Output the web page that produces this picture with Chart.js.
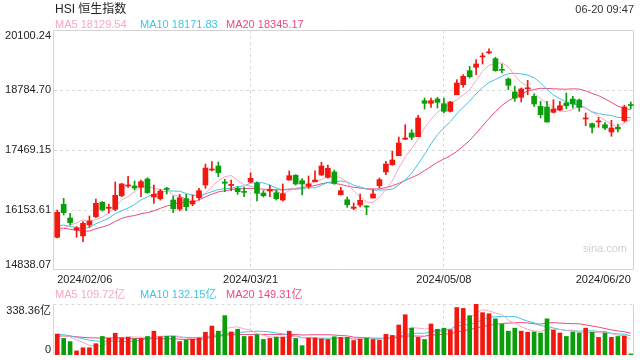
<!DOCTYPE html>
<html><head><meta charset="utf-8">
<script src="https://cdn.jsdelivr.net/npm/chart.js@4/dist/chart.umd.min.js"></script>
<style>
html,body{margin:0;padding:0;background:#fff;width:640px;height:360px;overflow:hidden;}
#wrap{position:relative;width:640px;height:360px;font-family:"Liberation Sans",Arial,"Noto Sans CJK SC",sans-serif;}
.t{position:absolute;white-space:nowrap;line-height:1;}
#c1{position:absolute;left:0;top:0;}
#c2{position:absolute;left:0;top:300px;}
</style></head>
<body><div id="wrap">
<canvas id="c1" width="640" height="290"></canvas>
<canvas id="c2" width="640" height="60"></canvas>
<div class="t" style="left:55px;top:3px;font-size:12px;color:#222">HSI 恒生指数</div>
<div class="t" style="right:6px;top:4px;font-size:11px;color:#333">06-20 09:47</div>
<div id="lg1"></div><div id="lg2"></div>
<div class="t" style="left:583px;top:243px;font-size:11px;color:#d0d0d0">sina.com</div>
</div>
<script>
const dates = ['02/06','02/07','02/08','02/09','02/14','02/15','02/16','02/19','02/20','02/21','02/22','02/23','02/26','02/27','02/28','02/29',
'03/01','03/04','03/05','03/06','03/07','03/08','03/11','03/12','03/13','03/14','03/15','03/18','03/19','03/20','03/21','03/22','03/25','03/26','03/27','03/28',
'04/02','04/03','04/05','04/08','04/09','04/10','04/11','04/12','04/15','04/16','04/17','04/18','04/19','04/22','04/23','04/24','04/25','04/26','04/29','04/30',
'05/02','05/03','05/06','05/07','05/08','05/09','05/10','05/13','05/14','05/16','05/17','05/20','05/21','05/22','05/23','05/24','05/27','05/28','05/29','05/30','05/31',
'06/03','06/04','06/05','06/06','06/07','06/11','06/12','06/13','06/14','06/17','06/18','06/19','06/20'];
const opens = [15555,16279,15978,15720,15584,15825,16007,16322,16190,16168,16467,16680,16680,16651,16833,16438,
16401,16630,16373,16175,16402,16285,16423,16702,17030,17118,16768,16690,16629,16555,16767,16738,16526,16570,16533,16373,
16811,16915,16796,16680,16774,16921,16871,16987,16489,16379,16190,16263,16234,16416,16687,16987,17147,17344,17705,17842,
17761,18550,18493,18587,18484,18317,18681,18901,19208,19282,19510,19600,19471,19230,19026,18741,18625,18810,18647,18427,18412,
18296,18346,18500,18587,18565,18150,18046,18085,18024,17864,17967,18112,18460];
const highs = [16154,16410,16081,15790,15899,16022,16395,16340,16280,16767,16740,16893,16790,16811,16862,16702,
16607,16651,16460,16498,16498,16482,16629,17162,17215,17206,16826,16811,16665,16651,16971,16774,16577,16695,16592,16724,
17010,16929,16840,16899,17010,17199,17140,17031,16651,16438,16307,16504,16248,16599,16855,17221,17440,17754,18024,17915,
18230,18609,18609,18624,18609,18537,19011,19120,19304,19449,19596,19690,19502,19355,19048,18866,18829,18997,18697,18537,18537,
18572,18537,18719,18646,18587,18280,18061,18186,18068,18120,18039,18449,18522];
const lows = [15540,16044,15825,15555,15460,15775,15985,16130,16085,16140,16445,16651,16592,16445,16520,16300,
16373,16504,16094,16139,16139,16248,16373,16629,17010,16884,16555,16577,16498,16445,16752,16350,16438,16445,16373,16350,
16805,16702,16482,16629,16770,16910,16850,16717,16482,16212,16160,16219,16051,16416,16636,16928,17133,17344,17695,17695,
17761,18368,18405,18390,18280,18302,18681,18844,19048,19120,19355,19574,19195,19157,18791,18537,18522,18681,18427,18171,18080,
18280,18331,18375,18390,18318,18002,17842,17967,17914,17770,17864,18083,18375];
const closes = [16104,16095,15875,15760,15862,15912,16300,16154,16215,16475,16724,16700,16635,16774,16533,16498,
16570,16605,16182,16423,16226,16350,16577,17074,17050,16971,16740,16715,16555,16540,16848,16519,16467,16607,16401,16511,
16906,16724,16724,16724,16811,17118,17068,16739,16577,16270,16219,16366,16219,16504,16818,17162,17250,17623,17732,17748,
18171,18493,18550,18515,18317,18522,18938,19085,19076,19355,19525,19615,19208,19216,18888,18610,18807,18830,18478,18243,18083,
18368,18440,18440,18478,18405,18171,17967,18098,17951,17951,17930,18412,18445];
const volumes = [139,110,89,27,48,48,75,123,112,144,114,117,107,110,123,158,
121,123,123,89,98,105,112,151,192,158,261,153,171,123,123,135,103,110,119,119,
158,110,62,112,112,107,103,121,117,117,96,105,112,103,98,137,130,199,267,178,
117,103,206,171,178,167,315,309,261,338,281,274,240,203,158,178,158,151,153,146,240,
165,146,123,153,146,178,151,117,146,117,123,126,7];
// estimated sessions before the visible window (only feed the moving averages)
const priorCloses = [16098,16302,16244,16216,15866,15277,15391,15309,14961,15353,15899,16212,15952,16077,15703,15485,15566,15533,15510];
const priorVolumes = [105,118,98,125,110,102,130,115,112,115,160,150,140,135,140,128,135,125,138];
const yTicks = [14838.07, 16153.61, 17469.15, 18784.70, 20100.24];
const volTicks = [0, 338.36];
const volTickLabels = ['0', '338.36亿'];
const xTickIdx = [0, 30, 60, 89];
const maPeriods = [5, 10, 20];
const legendMain = ['MA5 18129.54', 'MA10 18171.83', 'MA20 18345.17'];
const legendVol = ['MA5 109.72亿', 'MA10 132.15亿', 'MA20 149.31亿'];

const UP = '#f2170f', DOWN = '#0a9e0a';
const MA_COLORS = ['#f7a6c4', '#3ec6e4', '#ec4a7c'];
const FONT = '"Liberation Sans", Arial, "Noto Sans CJK SC", sans-serif';

function movingAvg(series, prior, n) {
  const all = prior.concat(series), off = prior.length;
  return series.map((_, i) => {
    let s = 0;
    for (let k = off + i - n + 1; k <= off + i; k++) s += all[k];
    return s / n;
  });
}
const candleColors = closes.map((c, i) => c >= opens[i] ? UP : DOWN);

function legendHtml(id, items, top) {
  const el = document.getElementById(id);
  const lefts = [55, 140, 226];
  el.innerHTML = items.map((t, i) => `<div class="t" style="left:${lefts[i]}px;top:${top}px;font-size:11px;color:${MA_COLORS[i]}">${t}</div>`).join('');
}
legendHtml('lg1', legendMain, 19);
legendHtml('lg2', legendVol, 289);

function gridPlugin(hIdx, topDotted, bottomLine) {
  return {
    id: 'gridframe',
    beforeDatasetsDraw(chart) {
      const { ctx, chartArea: a } = chart;
      const xs = chart.scales.x, ys = chart.scales.y;
      ctx.save();
      ctx.lineWidth = 1;
      ctx.strokeStyle = '#d9d9d9';
      ctx.setLineDash([3, 3]);
      hIdx.forEach(v => {
        const y = Math.round(ys.getPixelForValue(v)) + 0.5;
        ctx.beginPath(); ctx.moveTo(a.left, y); ctx.lineTo(a.right, y); ctx.stroke();
      });
      [xTickIdx[1], xTickIdx[2]].forEach(i => {
        const x = Math.round(xs.getPixelForValue(i)) - 0.5;
        ctx.beginPath(); ctx.moveTo(x, a.top); ctx.lineTo(x, a.bottom); ctx.stroke();
      });
      const L = Math.round(a.left) - 0.5, R = Math.round(a.right) - 0.5, T = Math.round(a.top) + 0.5, B = Math.round(a.bottom) - 0.5;
      if (topDotted) {
        ctx.beginPath(); ctx.moveTo(L, T); ctx.lineTo(R, T); ctx.stroke();
      }
      ctx.setLineDash([]);
      ctx.strokeStyle = '#d4d4d4';
      ctx.beginPath();
      if (!topDotted) { ctx.moveTo(L, T); ctx.lineTo(R, T); }
      ctx.moveTo(L, T); ctx.lineTo(L, B);
      ctx.moveTo(R, T); ctx.lineTo(R, B);
      if (bottomLine) { ctx.moveTo(L, B); ctx.lineTo(R, B); }
      ctx.stroke();
      ctx.restore();
    }
  };
}

const yLabelPlugin = {
  id: 'ylabels',
  afterDraw(chart) {
    const { ctx, chartArea: a } = chart, ys = chart.scales.y;
    ctx.save();
    ctx.font = '11px ' + FONT; ctx.fillStyle = '#222'; ctx.textAlign = 'right';
    yTicks.forEach((v, i) => {
      ctx.textBaseline = i === yTicks.length - 1 ? 'top' : (i === 0 ? 'bottom' : 'middle');
      ctx.fillText(v.toFixed(2), a.left - 3, ys.getPixelForValue(v));
    });
    ctx.restore();
  }
};
const volLabelPlugin = {
  id: 'vlabels',
  afterDraw(chart) {
    const { ctx, chartArea: a } = chart, ys = chart.scales.y;
    ctx.save();
    ctx.font = '11px ' + FONT; ctx.fillStyle = '#222'; ctx.textAlign = 'right';
    volTicks.forEach((v, i) => {
      ctx.textBaseline = i === 0 ? 'bottom' : 'top';
      ctx.fillText(volTickLabels[i], a.left - 3, ys.getPixelForValue(v) + (i === 0 ? 0 : 1));
    });
    ctx.restore();
  }
};

const maLines = (series, prior) => maPeriods.map((n, k) => ({
  type: 'line', data: movingAvg(series, prior, n), borderColor: MA_COLORS[k], borderWidth: 1,
  pointRadius: 0, fill: false, tension: 0, order: 5 + k
}));

new Chart(document.getElementById('c1'), {
  type: 'bar',
  data: {
    labels: dates,
    datasets: [
      ...maLines(closes, priorCloses),
      { type: 'bar', data: dates.map((_, i) => [lows[i], highs[i]]), backgroundColor: candleColors, barThickness: 1, grouped: false, order: 2 },
      { type: 'bar', data: dates.map((_, i) => [Math.min(opens[i], closes[i]), Math.max(opens[i], closes[i])]), backgroundColor: candleColors, barThickness: 5, minBarLength: 1, grouped: false, order: 1 }
    ]
  },
  options: {
    responsive: false, animation: false, events: [],
    layout: { padding: { top: 30, right: 6, left: 0, bottom: 0 } },
    plugins: { legend: { display: false }, tooltip: { enabled: false } },
    scales: {
      x: {
        offset: true, grid: { display: false, drawTicks: false, tickLength: 0 }, border: { display: false },
        afterBuildTicks: s => { s.ticks = xTickIdx.map(v => ({ value: v })); },
        ticks: { autoSkip: false, maxRotation: 0, minRotation: 0, align: 'inner', padding: 3, color: '#222', font: { size: 11, family: FONT },
          callback: v => '2024/' + dates[v] },
        afterFit: s => { s.height = 20; }
      },
      y: {
        min: yTicks[0], max: yTicks[yTicks.length - 1],
        grid: { display: false }, border: { display: false },
        afterBuildTicks: s => { s.ticks = yTicks.map(v => ({ value: v })); },
        ticks: { display: false },
        afterFit: s => { s.width = 54; }
      }
    }
  },
  plugins: [gridPlugin(yTicks.slice(1, -1), false, true), yLabelPlugin]
});

new Chart(document.getElementById('c2'), {
  type: 'bar',
  data: {
    labels: dates,
    datasets: [
      ...maLines(volumes, priorVolumes),
      { type: 'bar', data: volumes, backgroundColor: candleColors, barThickness: 4, grouped: false, order: 1 }
    ]
  },
  options: {
    responsive: false, animation: false, events: [],
    layout: { padding: { top: 4, right: 6, left: 0, bottom: 5 } },
    plugins: { legend: { display: false }, tooltip: { enabled: false } },
    scales: {
      x: { offset: true, display: false },
      y: {
        min: volTicks[0], max: volTicks[1],
        grid: { display: false }, border: { display: false },
        ticks: { display: false },
        afterFit: s => { s.width = 54; }
      }
    }
  },
  plugins: [gridPlugin([], true, false), volLabelPlugin]
});
</script>
</body></html>
